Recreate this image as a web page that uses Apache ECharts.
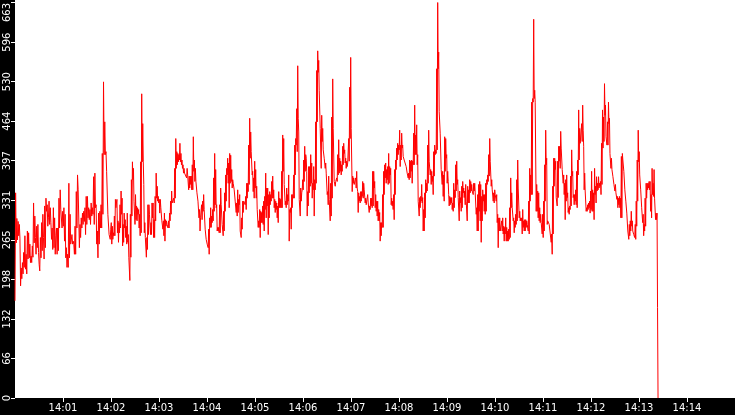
<!DOCTYPE html>
<html>
<head>
<meta charset="utf-8">
<script src="https://cdn.jsdelivr.net/npm/echarts@6/dist/echarts.min.js"></script>
<style>
  html, body { margin: 0; padding: 0; background: #fff; overflow: hidden; }
  #main { width: 735px; height: 415px; }
</style>
</head>
<body>
<div id="main"></div>
<script>
// seconds after 14:00:00 where each stretch of samples starts / ends
var segBounds = [0, 118.4, 237.1, 355.9, 474.6, 593.4, 712.1, 803.8];

// sample values, one stretch per array
var seg1 = [163, 344, 260, 301, 265, 296, 272, 291, 268, 188, 218, 200, 227, 208, 244, 219, 272, 216, 241, 208,
    280, 233, 277, 235, 258, 227, 238, 227, 255, 236, 327, 260, 305, 269, 241, 288, 252, 291, 244, 224,
    213, 269, 235, 294, 247, 308, 269, 233, 322, 252, 335, 313, 324, 288, 302, 330, 291, 319, 294, 266,
    285, 249, 319, 252, 302, 241, 272, 285, 241, 285, 247, 335, 285, 349, 316, 319, 285, 313, 288, 319,
    263, 308, 235, 252, 219, 241, 219, 360, 235, 308, 258, 260, 274, 258, 263, 258, 241, 288, 241, 346,
    285, 374, 349, 352, 252, 291, 269, 302, 285, 310, 291, 313, 296, 319, 274, 338, 291, 338, 302, 319,
    299, 316, 291, 327, 305, 319, 308, 371, 291, 377, 319, 324, 258, 280, 235, 310, 258, 313, 285, 324,
    285, 410, 308, 530, 408, 463, 408, 413, 380, 380, 308, 308, 274];
var seg2 = [274, 266, 283, 294, 258, 288, 266, 277, 272, 305, 272, 333, 319, 327, 333, 277, 297, 261, 294, 277,
    324, 285, 347, 308, 335, 255, 291, 261, 310, 285, 299, 269, 288, 258, 310, 261, 274, 236, 236, 197,
    308, 236, 366, 305, 396, 366, 385, 330, 330, 291, 341, 299, 322, 297, 319, 308, 316, 285, 308, 272,
    396, 277, 510, 396, 460, 396, 358, 277, 294, 269, 269, 236, 269, 249, 324, 274, 324, 308, 308, 274,
    294, 274, 327, 302, 327, 269, 299, 269, 338, 297, 377, 335, 355, 330, 338, 327, 333, 310, 333, 319,
    316, 297, 299, 283, 297, 272, 310, 263, 299, 288, 297, 291, 291, 285, 297, 285, 310, 297, 330, 308,
    347, 327, 330, 324, 335, 327, 385, 335, 435, 385, 413, 391, 410, 396, 408, 399, 427, 396, 410, 391,
    399, 385, 391, 377, 385, 377, 380, 374, 377, 369, 385, 374, 372, 349, 372, 352, 372, 358, 372, 349,
    391, 349, 438, 380, 399, 363, 385, 363, 366, 344, 344, 330, 333, 302, 316, 280, 302, 299, 324, 299,
    330, 313, 341, 316];
var seg3 = [313, 283, 283, 266, 269, 258, 258, 252, 283, 241, 302, 286, 319, 286, 305, 294, 316, 297, 369, 313,
    410, 324, 383, 319, 324, 280, 286, 280, 286, 277, 324, 277, 352, 324, 324, 291, 294, 272, 313, 280,
    344, 313, 374, 330, 385, 374, 402, 360, 394, 319, 410, 360, 407, 363, 383, 352, 366, 360, 363, 349,
    352, 330, 333, 311, 327, 305, 349, 311, 333, 324, 341, 280, 283, 269, 302, 283, 330, 311, 330, 327,
    333, 324, 338, 316, 360, 335, 360, 346, 424, 358, 469, 402, 446, 413, 413, 374, 380, 346, 369, 335,
    397, 352, 383, 335, 355, 316, 319, 286, 297, 286, 316, 269, 313, 294, 311, 294, 322, 291, 330, 280,
    338, 316, 377, 302, 352, 322, 352, 274, 341, 302, 346, 324, 341, 330, 363, 335, 372, 335, 349, 319,
    333, 311, 330, 316, 327, 302, 322, 294, 346, 319, 335, 319, 333, 319, 380, 319, 441, 380, 435, 358,
    360, 324, 330, 319, 352, 324, 341, 330, 374, 263, 316, 311, 319, 283, 341, 319, 341, 335, 374, 335,
    424, 374, 435, 424, 485, 413, 557, 469, 446, 333];
var seg4 = [330, 305, 352, 330, 344, 349, 366, 349, 399, 363, 422, 380, 408, 402, 380, 305, 346, 322, 388, 344,
    388, 355, 408, 360, 394, 335, 360, 349, 388, 305, 366, 349, 463, 360, 549, 463, 582, 546, 566, 516,
    516, 452, 455, 385, 474, 430, 452, 416, 416, 402, 402, 385, 394, 377, 377, 341, 346, 324, 372, 333,
    335, 297, 360, 305, 471, 335, 535, 452, 449, 363, 363, 355, 363, 360, 369, 363, 408, 374, 433, 377,
    402, 380, 397, 374, 391, 380, 422, 391, 427, 410, 416, 394, 402, 385, 397, 388, 394, 391, 435, 397,
    521, 435, 571, 452, 455, 346, 372, 360, 369, 358, 360, 355, 369, 352, 380, 352, 346, 311, 344, 330,
    338, 327, 346, 330, 346, 338, 363, 335, 360, 349, 349, 327, 335, 324, 327, 324, 341, 327, 327, 311,
    322, 316, 335, 322, 335, 319, 380, 322, 380, 352, 363, 319, 341, 313, 330, 305, 330, 297, 316, 297,
    311, 263, 294, 272, 294, 286, 341, 286, 380, 341, 391, 369, 394, 360, 383, 366, 388, 358, 410, 360,
    388, 374, 385, 324, 335, 322, 330, 316, 341, 299];
var seg5 = [383, 341, 399, 383, 419, 399, 427, 408, 424, 416, 449, 388, 424, 399, 444, 419, 424, 405, 405, 399,
    402, 397, 402, 388, 391, 377, 380, 369, 377, 366, 399, 369, 397, 380, 399, 360, 397, 391, 444, 391,
    491, 408, 441, 408, 458, 391, 408, 330, 330, 305, 336, 319, 338, 330, 358, 327, 336, 280, 316, 280,
    344, 302, 366, 344, 360, 347, 424, 360, 449, 397, 397, 374, 383, 358, 380, 363, 372, 341, 413, 372,
    424, 408, 416, 410, 552, 416, 663, 552, 580, 480, 480, 444, 444, 383, 383, 358, 380, 338, 374, 330,
    438, 380, 435, 402, 408, 360, 380, 363, 341, 322, 338, 324, 336, 327, 336, 316, 327, 313, 360, 319,
    349, 336, 391, 347, 397, 358, 366, 336, 333, 297, 347, 327, 336, 313, 355, 319, 363, 344, 352, 336,
    347, 324, 358, 330, 330, 297, 355, 327, 349, 327, 366, 344, 363, 347, 358, 347, 349, 341, 360, 347,
    360, 344, 344, 308, 319, 280, 341, 280, 358, 313, 363, 297, 358, 261, 338, 297, 349, 330, 341, 313,
    341, 308, 360, 313, 366, 358, 374, 363, 408, 372];
var seg6 = [435, 397, 397, 355, 366, 349, 349, 330, 344, 327, 349, 341, 341, 330, 341, 294, 308, 252, 302, 280,
    302, 280, 280, 277, 297, 280, 302, 275, 288, 263, 286, 275, 302, 263, 286, 263, 280, 263, 283, 266,
    319, 269, 369, 319, 344, 319, 319, 297, 302, 277, 297, 286, 308, 291, 366, 297, 399, 352, 352, 302,
    313, 297, 302, 297, 302, 275, 316, 286, 297, 280, 299, 280, 299, 286, 297, 291, 294, 280, 330, 275,
    385, 330, 374, 341, 496, 341, 502, 496, 635, 502, 516, 496, 496, 313, 358, 313, 347, 302, 344, 297,
    319, 294, 308, 294, 297, 275, 308, 269, 330, 280, 391, 330, 449, 391, 402, 291, 297, 294, 294, 291,
    291, 288, 291, 261, 275, 241, 355, 275, 402, 355, 402, 383, 397, 336, 336, 322, 397, 336, 422, 397,
    422, 385, 447, 419, 422, 383, 383, 360, 374, 341, 360, 299, 366, 330, 374, 336, 344, 311, 319, 308,
    322, 316, 372, 322, 416, 372, 380, 336, 341, 324, 341, 330, 349, 324, 380, 319, 399, 374, 483, 399,
    452, 427, 430, 427, 460, 430, 491, 449, 422, 349];
var seg7 = [377, 347, 347, 313, 319, 313, 324, 316, 327, 319, 330, 310, 347, 316, 380, 313, 349, 313, 344, 299,
    385, 341, 355, 327, 371, 347, 360, 349, 371, 352, 360, 355, 363, 341, 427, 358, 483, 419, 471, 430,
    527, 474, 491, 438, 438, 424, 463, 424, 496, 460, 469, 410, 410, 385, 402, 383, 385, 371, 371, 358,
    360, 347, 358, 344, 347, 333, 338, 319, 335, 324, 338, 319, 335, 302, 405, 302, 410, 399, 399, 380,
    380, 349, 349, 330, 330, 310, 310, 280, 283, 266, 291, 272, 297, 280, 313, 288, 297, 280, 280, 274,
    277, 269, 291, 266, 330, 288, 399, 330, 449, 396, 413, 374, 374, 349, 349, 319, 319, 294, 308, 272,
    291, 280, 335, 288, 360, 335, 360, 349, 360, 352, 363, 349, 363, 313, 341, 302, 385, 341, 360, 338,
    383, 335, 338, 299, 310, 299, 310, 152, 0];

var yTicks = [0, 66, 132, 198, 265, 331, 397, 464, 530, 596, 663];

var segs = [seg1, seg2, seg3, seg4, seg5, seg6, seg7];
var points = [];
segs.forEach(function (seg, k) {
    var t0 = segBounds[k], t1 = segBounds[k + 1];
    var last = k === segs.length - 1;
    var n = last ? seg.length - 1 : seg.length;
    seg.forEach(function (v, i) {
        points.push([t0 + (t1 - t0) * i / n, v]);
    });
});

function pad(n) {
    return n < 10 ? '0' + n : '' + n;
}

var myChart = echarts.init(document.getElementById('main'));

var option = {
    backgroundColor: '#000',
    animation: false,
    grid: {
        left: 15,
        right: 0,
        top: 0,
        bottom: 17,
        show: true,
        backgroundColor: '#fff',
        borderWidth: 0
    },
    // plain white strip over the top edge of the plot
    graphic: [{
        type: 'rect',
        left: 15,
        top: 0,
        z: -1,
        shape: {width: 720, height: 3},
        style: {fill: '#fff'}
    }],
    xAxis: {
        type: 'value',
        min: 0,
        max: 900,
        interval: 60,
        splitLine: {show: false},
        axisLine: {show: false},
        axisTick: {
            show: true,
            length: 4,
            lineStyle: {color: '#fff', width: 1}
        },
        axisLabel: {
            showMinLabel: false,
            showMaxLabel: false,
            color: '#fff',
            fontFamily: 'DejaVu Sans',
            fontSize: 10,
            margin: 5,
            formatter: function (v) {
                var m = Math.round(v / 60);
                return pad(14 + Math.floor(m / 60)) + ':' + pad(m % 60);
            }
        }
    },
    yAxis: {
        type: 'value',
        min: 0,
        max: 663,
        interval: 66.3,
        splitLine: {show: false},
        axisLine: {show: false},
        axisTick: {
            show: true,
            length: 4,
            lineStyle: {color: '#fff', width: 1}
        },
        axisLabel: {
            rotate: 90,
            color: '#fff',
            fontFamily: 'DejaVu Sans',
            fontSize: 10,
            margin: 3,
            formatter: function (v) {
                var idx = Math.round(v / 66.3);
                var txt = '' + yTicks[idx];
                return idx === yTicks.length - 1 ? '{top|' + txt + '}' : txt;
            },
            rich: {
                top: {
                    color: '#fff',
                    fontFamily: 'DejaVu Sans',
                    fontSize: 10,
                    padding: [0, 20, 0, 0]
                }
            }
        }
    },
    series: [{
        type: 'line',
        data: points,
        showSymbol: false,
        symbol: 'none',
        z: 5,
        lineStyle: {color: '#ff0000', width: 1},
        itemStyle: {color: '#ff0000'}
    }]
};

myChart.setOption(option);
</script>
</body>
</html>
